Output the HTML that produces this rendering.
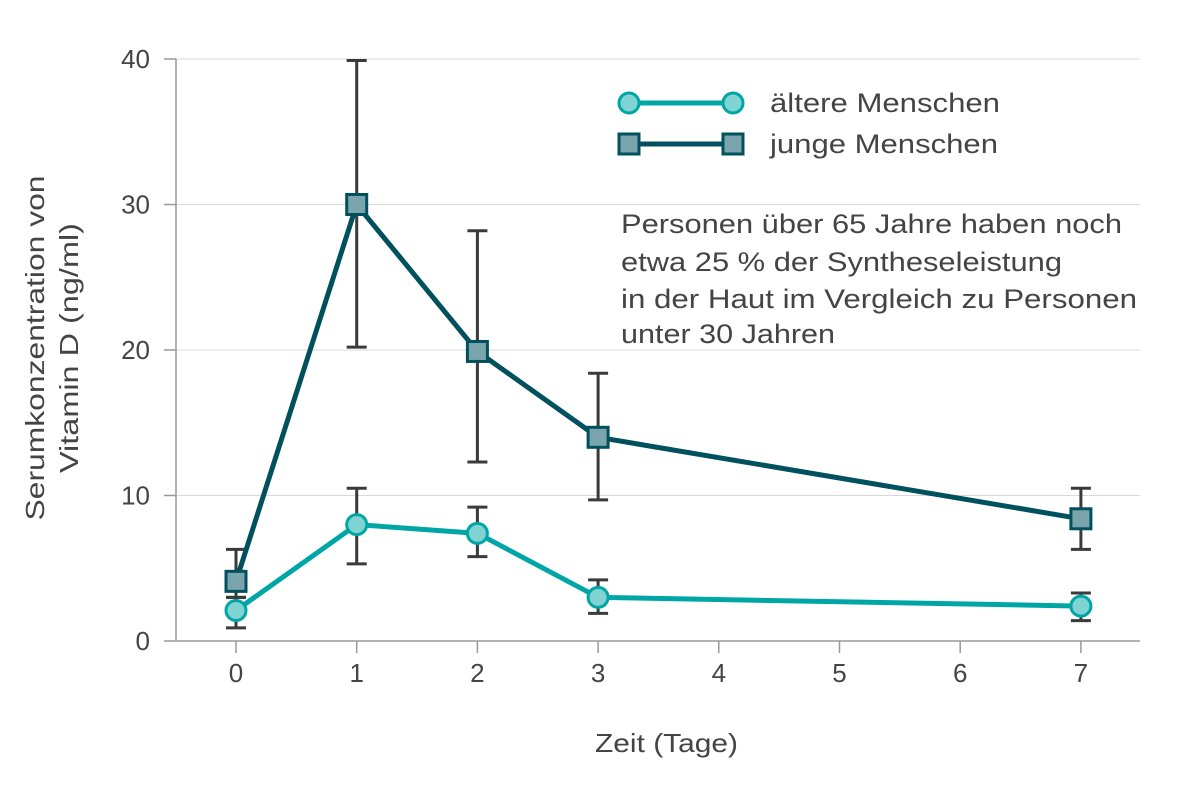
<!DOCTYPE html>
<html><head><meta charset="utf-8"><style>
body{margin:0;background:#fff}
svg text{font-family:"Liberation Sans",sans-serif;fill:#444}
</style></head><body>
<svg id="chart" width="1200" height="784" xmlns="http://www.w3.org/2000/svg">
<g id="grid"></g>
<g id="axes"></g>
<g id="series"></g>
<text x="595" y="752" font-size="26" textLength="143" lengthAdjust="spacingAndGlyphs">Zeit (Tage)</text>
<text transform="translate(44,348) rotate(-90)" font-size="26" text-anchor="middle" textLength="345" lengthAdjust="spacingAndGlyphs">Serumkonzentration von</text>
<text transform="translate(78,348) rotate(-90)" font-size="26" text-anchor="middle" textLength="250" lengthAdjust="spacingAndGlyphs">Vitamin D (ng/ml)</text>
<g>
<g>
<line x1="629" y1="103" x2="733" y2="103" stroke="#00a6a6" stroke-width="5"/>
<circle cx="629" cy="103" r="10" fill="#7fd3d3" stroke="#00a6a6" stroke-width="3"/>
<circle cx="733" cy="103" r="10" fill="#7fd3d3" stroke="#00a6a6" stroke-width="3"/>
<text x="770" y="112" font-size="27" textLength="230" lengthAdjust="spacingAndGlyphs">ältere Menschen</text></g>
<g>
<line x1="629" y1="144" x2="733" y2="144" stroke="#00505e" stroke-width="5"/>
<rect x="619" y="134" width="20" height="20" fill="#7aa5ad" stroke="#00505e" stroke-width="3"/>
<rect x="723" y="134" width="20" height="20" fill="#7aa5ad" stroke="#00505e" stroke-width="3"/>
<text x="770" y="153" font-size="27" textLength="228" lengthAdjust="spacingAndGlyphs">junge Menschen</text></g>
</g>
<g font-size="27">
<text x="621" y="233" textLength="501" lengthAdjust="spacingAndGlyphs">Personen über 65 Jahre haben noch</text>
<text x="621" y="271" textLength="441" lengthAdjust="spacingAndGlyphs">etwa 25 % der Syntheseleistung</text>
<text x="621" y="308" textLength="516" lengthAdjust="spacingAndGlyphs">in der Haut im Vergleich zu Personen</text>
<text x="621" y="343" textLength="214" lengthAdjust="spacingAndGlyphs">unter 30 Jahren</text>
</g>
</svg>
<script>
const xTicks=[0,1,2,3,4,5,6,7];
const yTicks=[0,10,20,30,40];
const days=[0,1,2,3,7];
const youngVals=[4.1,30,19.9,14,8.4];
const youngLo=[3.0,20.2,12.3,9.7,6.3];
const youngHi=[6.3,39.9,28.2,18.4,10.5];
const olderVals=[2.1,8,7.4,3,2.4];
const olderLo=[0.9,5.3,5.8,1.9,1.4];
const olderHi=[3.0,10.5,9.2,4.2,3.3];
const NS="http://www.w3.org/2000/svg";
const X=d=>236+d*120.7, Y=v=>641-v*14.55;
function mk(p,t,a){const e=document.createElementNS(NS,t);for(const k in a)e.setAttribute(k,a[k]);p.appendChild(e);return e;}
const grid=document.getElementById('grid'),axes=document.getElementById('axes'),ser=document.getElementById('series');
yTicks.forEach(v=>{
 if(v>0){const l=mk(grid,'line',{x1:176,x2:1140,y1:Y(v),y2:Y(v),stroke:'#d8d8d8','stroke-width':1});
 
 }
 const tk=mk(axes,'line',{x1:164,x2:176,y1:Y(v),y2:Y(v),stroke:'#999','stroke-width':1.5});
 
 
 const t=mk(axes,'text',{x:150,y:Y(v)+9,'font-size':26,'text-anchor':'end'});t.textContent=v;
 
 
});
const ax=mk(axes,'line',{x1:176,x2:176,y1:Y(40),y2:641,stroke:'#999','stroke-width':1.5});


const bx=mk(axes,'line',{x1:176,x2:1140,y1:641,y2:641,stroke:'#999','stroke-width':1.5});


xTicks.forEach(d=>{
 const tk=mk(axes,'line',{x1:X(d),x2:X(d),y1:641,y2:653,stroke:'#999','stroke-width':1.5});
 
 
 const t=mk(axes,'text',{x:X(d),y:682,'font-size':26,'text-anchor':'middle'});t.textContent=d;
 
 
});
function errs(lo,hi,name){days.forEach((d,i)=>{
 const g=mk(ser,'g',{stroke:'#3a3a3a','stroke-width':3});
 
 
 mk(g,'line',{x1:X(d),x2:X(d),y1:Y(lo[i]),y2:Y(hi[i])});
 mk(g,'line',{x1:X(d)-10,x2:X(d)+10,y1:Y(lo[i]),y2:Y(lo[i])});
 mk(g,'line',{x1:X(d)-10,x2:X(d)+10,y1:Y(hi[i]),y2:Y(hi[i])});
});}
errs(youngLo,youngHi,'error-bar-young');
errs(olderLo,olderHi,'error-bar-older');
const yl=mk(ser,'polyline',{points:days.map((d,i)=>X(d)+','+Y(youngVals[i])).join(' '),fill:'none',stroke:'#00505e','stroke-width':5,'stroke-linejoin':'round'});


days.forEach((d,i)=>{const r=mk(ser,'rect',{x:X(d)-10,y:Y(youngVals[i])-10,width:20,height:20,fill:'#7aa5ad',stroke:'#00505e','stroke-width':3});
 
 });
const ol=mk(ser,'polyline',{points:days.map((d,i)=>X(d)+','+Y(olderVals[i])).join(' '),fill:'none',stroke:'#00a6a6','stroke-width':5,'stroke-linejoin':'round'});


days.forEach((d,i)=>{const c=mk(ser,'circle',{cx:X(d),cy:Y(olderVals[i]),r:10,fill:'#7fd3d3',stroke:'#00a6a6','stroke-width':3});
 
 });
</script>
</body></html>
